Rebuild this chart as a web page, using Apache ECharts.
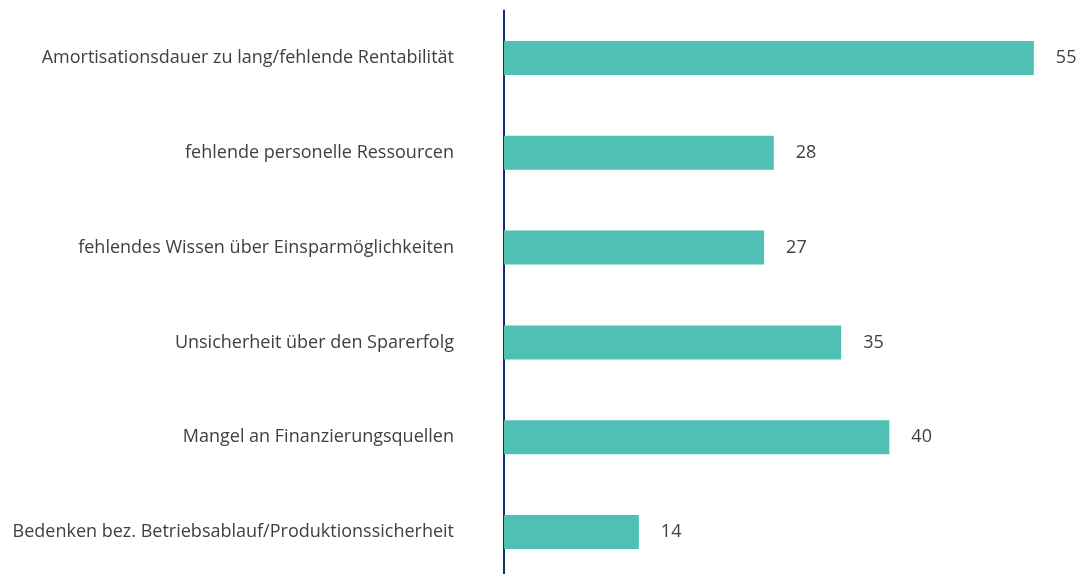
<!DOCTYPE html>
<html>
<head>
<meta charset="utf-8">
<script src="https://cdn.jsdelivr.net/npm/echarts@6/dist/echarts.min.js"></script>
<style>
  html, body { margin: 0; padding: 0; background: #ffffff; }
  #chart { width: 1082px; height: 574px; }
</style>
</head>
<body>
<div id="chart"></div>
<script>
// Hemmnisse (Nennungen je Kategorie)
const categories = [
  'Amortisationsdauer zu lang/fehlende Rentabilität',
  'fehlende personelle Ressourcen',
  'fehlendes Wissen über Einsparmöglichkeiten',
  'Unsicherheit über den Sparerfolg',
  'Mangel an Finanzierungsquellen',
  'Bedenken bez. Betriebsablauf/Produktionssicherheit'
];
const values = [55, 28, 27, 35, 40, 14];

const chart = echarts.init(document.getElementById('chart'), null, { renderer: 'canvas' });
const textColor = '#404040';
const fontFamily = '"Open Sans", "Noto Sans", sans-serif';

chart.setOption({
  animation: false,
  grid: {
    left: 504, top: 10.5, width: 578, height: 569,
    containLabel: false,
    outerBoundsMode: 'none'
  },
  xAxis: {
    type: 'value',
    min: 0,
    max: 60,
    show: false
  },
  yAxis: {
    type: 'category',
    data: categories,
    inverse: true,
    axisLine: { show: true, lineStyle: { color: '#0d2f6a', width: 2 } },
    axisTick: { show: false },
    splitLine: { show: false },
    axisLabel: {
      margin: 50,
      color: textColor,
      fontFamily: fontFamily,
      fontSize: 18,
      padding: [0, 0, 9, 0]
    }
  },
  series: [{
    type: 'bar',
    data: values,
    barWidth: 34,
    itemStyle: { color: '#4ec1b4' },
    label: {
      show: true,
      position: 'right',
      distance: 22,
      color: textColor,
      fontFamily: fontFamily,
      fontSize: 18,
      padding: [0, 0, 1, 0]
    }
  }]
});
</script>
</body>
</html>
